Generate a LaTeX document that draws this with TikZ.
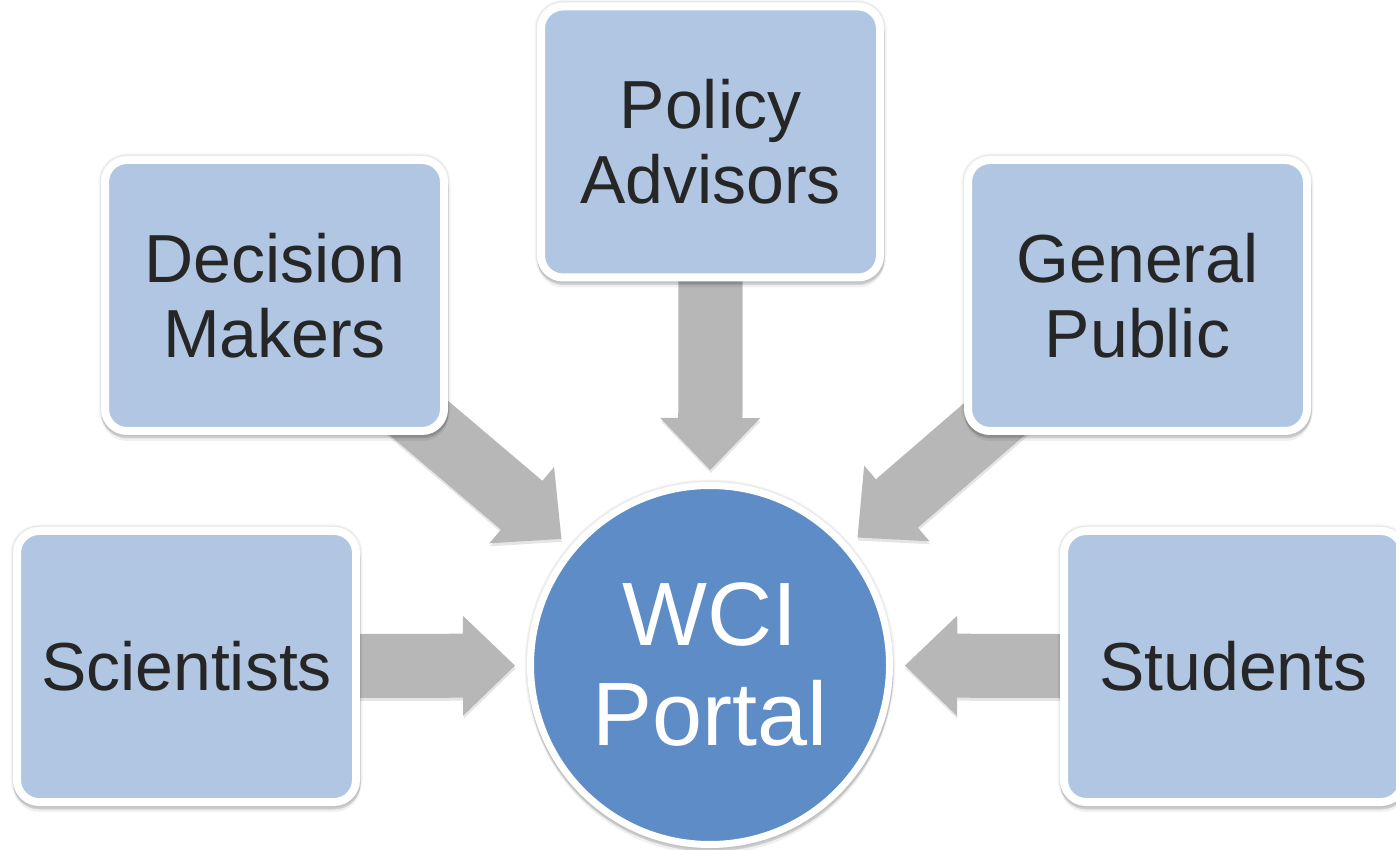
\documentclass[tikz,border=0pt]{standalone}
\usepackage{fontspec}
\setmainfont{Liberation Sans}
\usetikzlibrary{calc,shadows}
\definecolor{boxblue}{RGB}{176,198,226}
\definecolor{circblue}{RGB}{94,140,199}
\definecolor{arrowgray}{RGB}{183,183,183}
\definecolor{textdark}{RGB}{38,38,38}
\pgfdeclarelayer{bg}
\pgfsetlayers{bg,main}
\newcommand{\blockarrow}[2]{%
  \coordinate (#1-t) at ($(#2.center)!195pt!(#1.center)$);
  \coordinate (#1-h) at ($(#2.center)!247pt!(#1.center)$);
  \fill[arrowshape] (#1-t)
    -- ($(#1-h)!50pt!90:(#2.center)$)
    -- ($(#1-h)!32pt!90:(#2.center)$)
    -- ($(#1.center)!32pt!90:(#2.center)$)
    -- ($(#1.center)!32pt!-90:(#2.center)$)
    -- ($(#1-h)!32pt!-90:(#2.center)$)
    -- ($(#1-h)!50pt!-90:(#2.center)$) -- cycle;}
\begin{document}
\begin{tikzpicture}[x=1pt,y=1pt,
  softshadow/.style={
    drop shadow={shadow xshift=0pt, shadow yshift=0pt, opacity=0.04, fill=none, draw=black, line width=#1+5pt},
    drop shadow={shadow xshift=0pt, shadow yshift=0pt, opacity=0.05, fill=none, draw=black, line width=#1+2.5pt},
    drop shadow={shadow xshift=0.5pt, shadow yshift=-6pt, opacity=0.06, fill=none, draw=black, line width=#1},
    drop shadow={shadow xshift=0.5pt, shadow yshift=-3.5pt, opacity=0.12, fill=none, draw=black, line width=#1}},
  box/.style={rectangle, rounded corners=22pt, draw=white, line width=8pt,
    fill=boxblue, minimum width=339pt, minimum height=271pt, inner sep=0pt,
    align=center, text=textdark, font=\fontsize{68}{75}\selectfont, softshadow=8pt},
  portal/.style={circle, draw=white, line width=7pt, fill=circblue,
    minimum size=359pt, inner sep=0pt, align=center, text=white,
    font=\fontsize{90}{100}\selectfont, softshadow=7pt},
  arrowshape/.style={fill=arrowgray,
    drop shadow={shadow xshift=0.5pt, shadow yshift=-3pt, opacity=0.10, fill=black}}
]
\useasboundingbox (0,0) rectangle (1396,849);
\node[box] (sci) at (186.5,182.5) {Scientists};
\node[box] (dec) at (274.5,553.5) {Decision\\Makers};
\node[box] (pol) at (710.5,707) {Policy\\Advisors};
\node[box] (gen) at (1137.5,553.5) {General\\Public};
\node[box] (stu) at (1233.5,182.5) {Students};
\node[portal] (wci) at (710,184) {WCI\\Portal};
\begin{pgfonlayer}{bg}
\blockarrow{sci}{wci}
\blockarrow{dec}{wci}
\blockarrow{pol}{wci}
\blockarrow{gen}{wci}
\blockarrow{stu}{wci}
\end{pgfonlayer}
\end{tikzpicture}
\end{document}
